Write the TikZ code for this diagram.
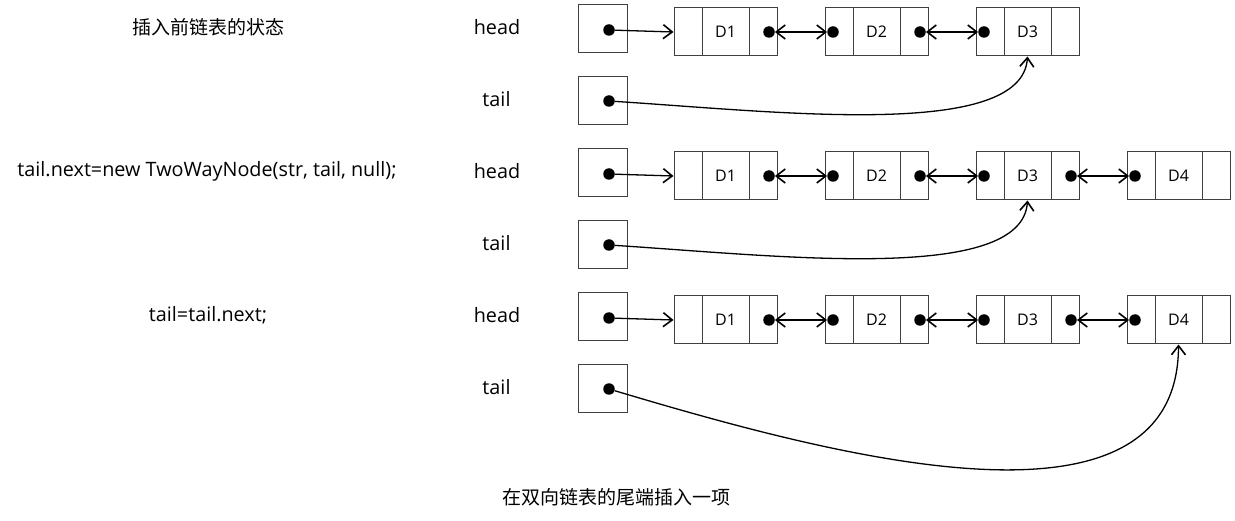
\documentclass[tikz,border=0pt]{standalone}
\usepackage{fontspec}
\setmainfont{Open Sans}
\newfontfamily\cjk{Noto Sans CJK SC}
\usetikzlibrary{arrows.meta,calc}
\tikzset{
  pbox/.style={draw=black!75, line width=1pt, minimum width=49pt, minimum height=48pt, inner sep=0pt},
  lbox/.style={draw=black!75, line width=1pt, minimum width=103pt, minimum height=48pt, inner sep=0pt, font=\fontsize{16}{18}\selectfont},
  cell/.style={draw=black!75, line width=1pt},
  ptdot/.style={circle, fill=black, minimum size=11.5pt, inner sep=0pt},
  btip/.tip={Straight Barb[length=9pt,width=14pt,line width=1.6pt]},
  ptr/.style={line width=1.3pt, -btip},
  link/.style={line width=1.3pt, btip-btip},
  lab/.style={font=\fontsize{19.8}{23}\selectfont, inner sep=0pt},
  zh/.style={font=\cjk\fontsize{19}{22}\selectfont, inner sep=0pt},
}
\newcommand\lnode[4]{%
  \node[lbox] (#1) at (#2,#3) {#4};
  \draw[cell] ([xshift=29pt]#1.north west) -- ([xshift=29pt]#1.south west)
              ([xshift=-28pt]#1.north east) -- ([xshift=-28pt]#1.south east);}
\newcommand\rdot[1]{\node[ptdot] (#1r) at ([xshift=43.5pt]#1.center) {};}
\newcommand\ldot[1]{\node[ptdot] (#1l) at ([xshift=-43.5pt]#1.center) {};}
\begin{document}
\begin{tikzpicture}[x=1pt,y=-1pt]
\fill[white] (0,0) rectangle (1235,521);
\useasboundingbox (0,0) rectangle (1235,521);

% left-hand texts
\node[zh] (s1) at (208,27) {插入前链表的状态};
\node[lab] (s2) at (207,171) {tail.next=new TwoWayNode(str, tail, null);};
\node[lab] (s3) at (208,315) {tail=tail.next;};
\node[zh] (cap) at (616,497) {在双向链表的尾端插入一项};

% head / tail boxes and labels for the three rows
\foreach \r/\dy in {1/0,2/144,3/288}{
  \node[lab] (hl\r) at (497,27+\dy) {head};
  \node[lab] (tl\r) at (496.5,99+\dy) {tail};
  \node[pbox] (hb\r) at (602.5,29+\dy) {};
  \node[pbox] (tb\r) at (602.5,101+\dy) {};
  \node[ptdot] (hd\r) at (609,30+\dy) {};
  \node[ptdot] (td\r) at (609,101+\dy) {};
}

% row 1
\lnode{a1}{725.5}{32}{D1}
\lnode{a2}{876.5}{32}{D2}
\lnode{a3}{1027.5}{32}{D3}
\rdot{a1}\ldot{a2}\rdot{a2}\ldot{a3}
\draw[ptr] (hd1) -- (a1.west);
\draw[link] (a1r) -- (a2l);
\draw[link] (a2r) -- (a3l);
\draw[ptr] (td1) .. controls (780,112) and (1022,140) .. (a3.south);

% row 2
\lnode{b1}{725.5}{176}{D1}
\lnode{b2}{876.5}{176}{D2}
\lnode{b3}{1027.5}{176}{D3}
\lnode{b4}{1178.5}{176}{D4}
\rdot{b1}\ldot{b2}\rdot{b2}\ldot{b3}\rdot{b3}\ldot{b4}
\draw[ptr] (hd2) -- (b1.west);
\draw[link] (b1r) -- (b2l);
\draw[link] (b2r) -- (b3l);
\draw[link] (b3r) -- (b4l);
\draw[ptr] (td2) .. controls (780,256) and (1022,284) .. (b3.south);

% row 3
\lnode{c1}{725.5}{320}{D1}
\lnode{c2}{876.5}{320}{D2}
\lnode{c3}{1027.5}{320}{D3}
\lnode{c4}{1178.5}{320}{D4}
\rdot{c1}\ldot{c2}\rdot{c2}\ldot{c3}\rdot{c3}\ldot{c4}
\draw[ptr] (hd3) -- (c1.west);
\draw[link] (c1r) -- (c2l);
\draw[link] (c2r) -- (c3l);
\draw[link] (c3r) -- (c4l);
\draw[ptr] (td3) .. controls (830,455) and (1178,550) .. (c4.south);
\end{tikzpicture}
\end{document}
